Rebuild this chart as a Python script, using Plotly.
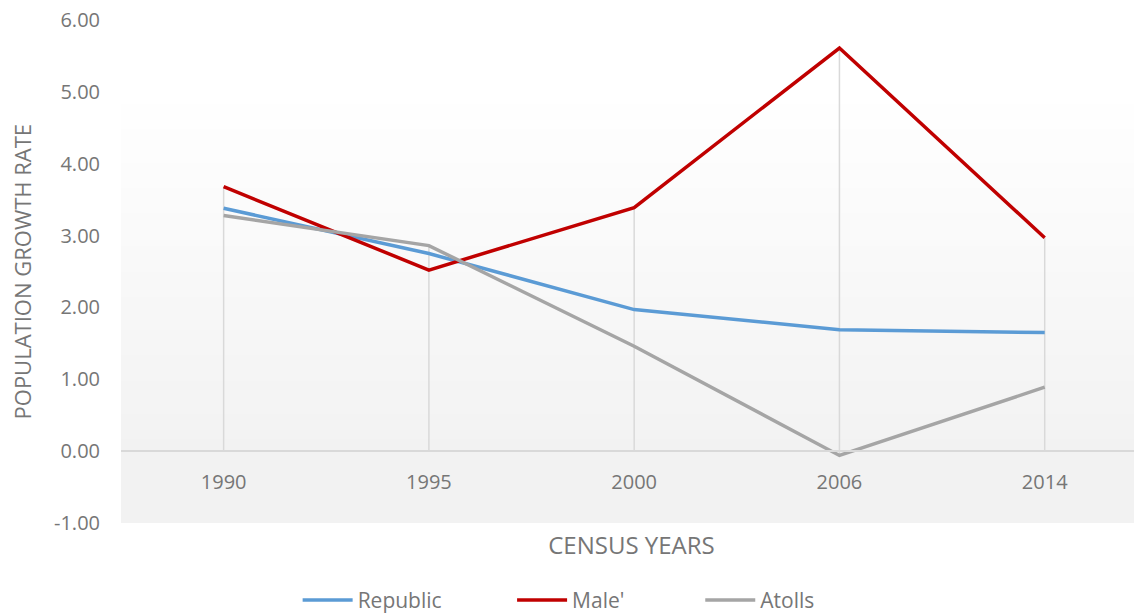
import plotly.graph_objects as go

years = ["1990", "1995", "2000", "2006", "2014"]
republic = [3.38, 2.75, 1.97, 1.69, 1.65]
male = [3.68, 2.52, 3.39, 5.61, 2.97]
atolls = [3.28, 2.86, 1.46, -0.06, 0.89]
y_ticks = [-1, 0, 1, 2, 3, 4, 5, 6]

TEXT = "#767676"
FONT = "Open Sans"
PAD = "\u00a0"  # widens the gap between legend entries

fig = go.Figure()

# background gradient of the plot area (white at top -> light grey)
steps = 60
for i in range(steps):
    f0 = i / steps
    f1 = (i + 1) / steps
    t = (1 - f1 - 0.13) / (0.85 - 0.13)  # measured from top
    t = min(max(t, 0), 1)
    c = round(255 - (255 - 242) * t)
    fig.add_shape(type="rect", xref="paper", yref="paper",
                  x0=0, x1=1, y0=f0, y1=f1 + 0.002,
                  fillcolor=f"rgb({c},{c},{c})", line_width=0, layer="below")

# drop lines from the highest point down to the axis
dx, dy = [], []
for k, yr in enumerate(years):
    vals = [republic[k], male[k], atolls[k]]
    dx += [yr, yr, None]
    dy += [min(0, min(vals)), max(vals), None]
fig.add_trace(go.Scatter(x=dx, y=dy, mode="lines",
                         line=dict(color="#D9D9D9", width=1.5),
                         showlegend=False, hoverinfo="skip"))

for name, vals, col in [("Republic" + PAD * 12, republic, "#5B9BD5"),
                        ("Male'" + PAD * 13, male, "#C00000"),
                        ("Atolls", atolls, "#A5A5A5")]:
    fig.add_trace(go.Scatter(x=years, y=vals, name=name, mode="lines",
                             line=dict(color=col, width=3.5)))

# y title as an annotation so it can sit close to the left edge
fig.add_annotation(text="POPULATION GROWTH RATE", textangle=-90,
                   xref="paper", yref="paper", x=-0.097, y=0.5,
                   xanchor="center", yanchor="middle", showarrow=False,
                   font=dict(size=22, color=TEXT))

# page body has an 8px margin, so the figure is 8px smaller each way
fig.update_layout(
    width=1134, height=607,
    margin=dict(l=113, r=0, t=12, b=92, autoexpand=False),
    paper_bgcolor="white", plot_bgcolor="rgba(0,0,0,0)",
    font=dict(family=FONT, color=TEXT, size=20),
    showlegend=True,
    legend=dict(orientation="h", x=0.173, xanchor="left", y=-0.113, yanchor="top",
                font=dict(size=21, color=TEXT), itemwidth=50),
    xaxis=dict(type="category", range=[-0.5, 4.474], anchor="free", position=1 / 7,
               showline=True, linecolor="#D9D9D9", linewidth=1.5,
               showgrid=False, zeroline=False, ticks="", automargin=False,
               ticklabelstandoff=13, tickfont=dict(size=20, color=TEXT),
               title=dict(text="CENSUS YEARS", font=dict(size=24, color=TEXT), standoff=42)),
    yaxis=dict(range=[-1, 6], tickvals=y_ticks, ticktext=[f"{v:.2f}" for v in y_ticks],
               showgrid=False, automargin=False, ticklabeloverflow="allow",
               zeroline=False, showline=False, ticks="",
               ticklabelstandoff=20, tickfont=dict(size=20, color=TEXT)),
)

fig.write_html("out.html")
